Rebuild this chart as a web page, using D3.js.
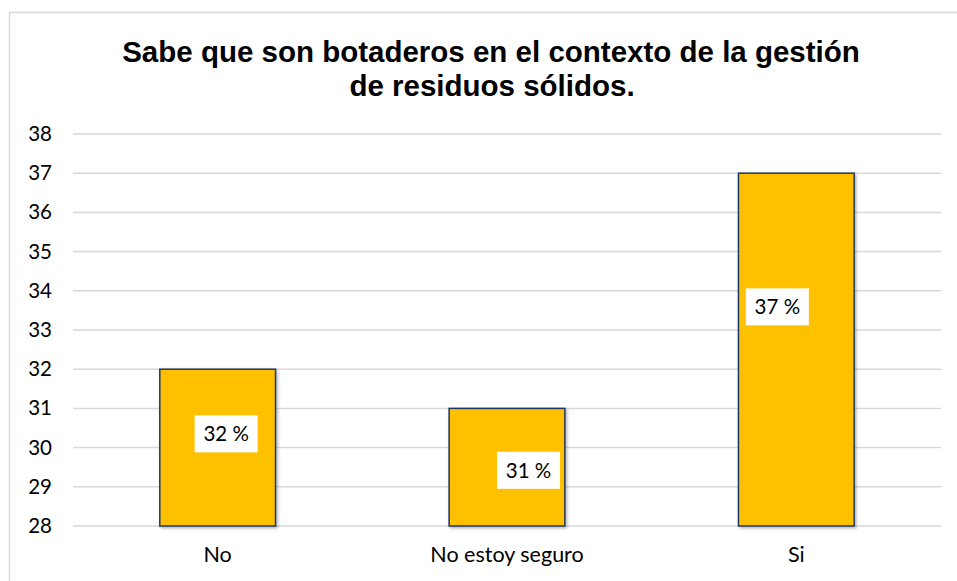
<!DOCTYPE html>
<html lang="es">
<head>
  <meta charset="UTF-8">
  <title>Botaderos</title>
  <script src="https://d3js.org/d3.v7.min.js"></script>
  <style>
    body { margin: 0; background: #fff; }
  </style>
</head>
<body>
<div id="chart"></div>
<script>
  // data
  const categories = ["No", "No estoy seguro", "Si"];
  const values = [32, 31, 37];
  const labels = ["32 %", "31 %", "37 %"];
  const yTicks = [28, 29, 30, 31, 32, 33, 34, 35, 36, 37, 38];

  // where Excel left each data label (value units + x shift)
  const labelAt = [30.35, 29.42, 33.59];
  const labelDx = [8.5, 21.5, -19];

  const width = 957, height = 581;
  const margin = {top: 134, right: 16, bottom: 55, left: 73};
  const tickFont = "Lato, 'Open Sans', sans-serif";

  const svg = d3.select("#chart").append("svg")
    .attr("width", width)
    .attr("height", height);

  const defs = svg.append("defs");
  const f = defs.append("filter").attr("id", "shadow")
    .attr("x", "-10%").attr("y", "-10%").attr("width", "130%").attr("height", "130%");
  f.append("feDropShadow").attr("dx", 1.5).attr("dy", 1.5).attr("stdDeviation", 1.5)
    .attr("flood-color", "#000").attr("flood-opacity", 0.3);

  // outer border
  svg.append("rect")
    .attr("x", 9.5).attr("y", 12.5)
    .attr("width", width + 10).attr("height", height + 10)
    .attr("fill", "none").attr("stroke", "#d9d9d9").attr("stroke-width", 1.5);

  // title
  const title = svg.append("text")
    .attr("text-anchor", "middle")
    .attr("font-family", "'Liberation Sans', Arial, sans-serif")
    .attr("font-weight", "bold")
    .attr("font-size", 29.5)
    .attr("fill", "#000");
  title.append("tspan").attr("x", 491).attr("y", 62)
    .text("Sabe que son botaderos en el contexto de la gestión");
  title.append("tspan").attr("x", 492).attr("y", 96)
    .text("de residuos sólidos.");

  const x = d3.scaleBand()
    .domain(categories)
    .range([margin.left, width - margin.right])
    .paddingInner(0.6)
    .paddingOuter(0.3);

  const y = d3.scaleLinear()
    .domain([28, 38])
    .range([height - margin.bottom, margin.top]);

  // gridlines
  svg.append("g")
    .selectAll("line")
    .data(yTicks)
    .join("line")
    .attr("x1", margin.left).attr("x2", width - margin.right)
    .attr("y1", d => y(d)).attr("y2", d => y(d))
    .attr("stroke", "#d9d9d9").attr("stroke-width", 1.5);

  // y axis
  const yAxis = svg.append("g")
    .attr("transform", `translate(${margin.left},0)`)
    .call(d3.axisLeft(y).tickValues(yTicks).tickSize(0).tickPadding(21).tickFormat(d3.format("d")));
  yAxis.select(".domain").remove();
  yAxis.selectAll("text")
    .attr("font-family", tickFont)
    .attr("font-size", 20.5)
    .attr("fill", "#000");

  // x axis
  const xAxis = svg.append("g")
    .attr("transform", `translate(0,${height - margin.bottom})`)
    .call(d3.axisBottom(x).tickSize(0).tickPadding(21));
  xAxis.select(".domain").remove();
  xAxis.selectAll("text")
    .attr("font-family", tickFont)
    .attr("font-size", 21.5)
    .attr("fill", "#000");

  // bars
  svg.append("g")
    .selectAll("rect")
    .data(values)
    .join("rect")
    .attr("x", (d, i) => x(categories[i]))
    .attr("y", d => y(d))
    .attr("width", x.bandwidth())
    .attr("height", d => y(28) - y(d))
    .attr("fill", "#ffc000")
    .attr("stroke", "#1f3864")
    .attr("stroke-width", 1.5)
    .attr("filter", "url(#shadow)");

  // data labels
  const lab = svg.append("g")
    .selectAll("g")
    .data(labels)
    .join("g")
    .attr("transform", (d, i) =>
      `translate(${x(categories[i]) + x.bandwidth() / 2 + labelDx[i]},${y(labelAt[i])})`);
  lab.append("rect")
    .attr("x", -31.5).attr("y", -18.5)
    .attr("width", 63).attr("height", 37)
    .attr("fill", "#fff");
  lab.append("text")
    .attr("text-anchor", "middle")
    .attr("dy", "0.35em")
    .attr("font-family", tickFont)
    .attr("font-size", 20.5)
    .attr("fill", "#000")
    .text(d => d);
</script>
</body>
</html>
